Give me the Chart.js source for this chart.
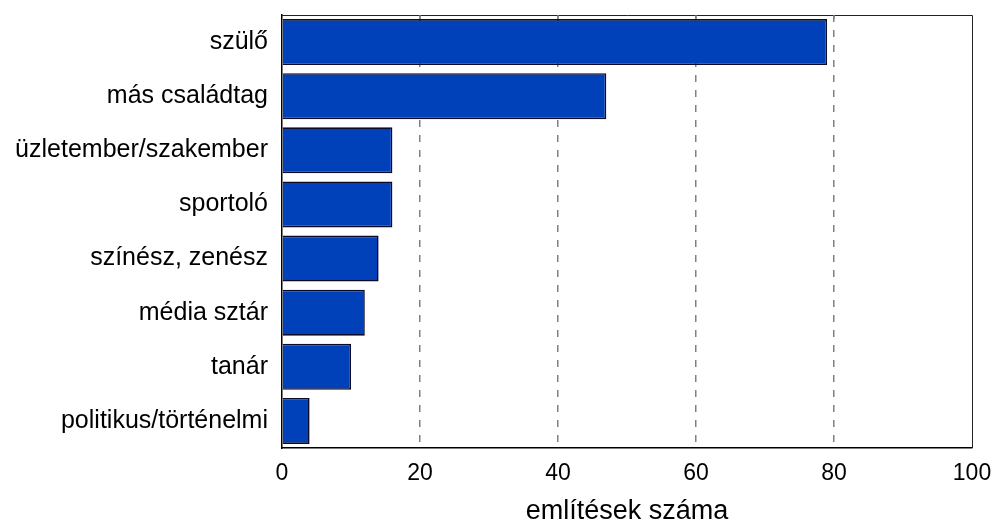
<!DOCTYPE html>
<html>
<head>
<meta charset="utf-8">
<script src="https://cdn.jsdelivr.net/npm/chart.js@4"></script>
<style>
  html, body { margin: 0; padding: 0; background: #fff; }
  #wrap { width: 993px; height: 525px; }
</style>
</head>
<body>
<div id="wrap"><canvas id="chart" width="993" height="525"></canvas></div>
<script>
  // Data
  const categories = ['szülő', 'más családtag', 'üzletember/szakember', 'sportoló',
    'színész, zenész', 'média sztár', 'tanár', 'politikus/történelmi'];
  const mentions = [79, 47, 16, 16, 14, 12, 10, 4];
  const xTicks = [0, 20, 40, 60, 80, 100];

  const FONT = 'Arial, "Liberation Sans", Helvetica, sans-serif';

  // Draws the top and right edges of the plot box, plus the little tick marks under the top edge
  const frame = {
    id: 'frame',
    afterDraw(chart) {
      const { ctx, chartArea: a } = chart;
      const xs = chart.scales.x;
      ctx.save();
      ctx.strokeStyle = '#222';
      ctx.lineWidth = 1;
      ctx.beginPath();
      ctx.moveTo(a.left, a.top + 0.5);
      ctx.lineTo(a.right + 0.5, a.top + 0.5);
      ctx.lineTo(a.right + 0.5, a.bottom);
      ctx.stroke();
      ctx.strokeStyle = '#808080';
      ctx.lineWidth = 1.5;
      ctx.beginPath();
      xTicks.slice(1, -1).forEach(v => {
        const px = xs.getPixelForValue(v);
        ctx.moveTo(px, a.top);
        ctx.lineTo(px, a.top + 4);
      });
      ctx.stroke();
      ctx.restore();
    }
  };

  const ctx = document.getElementById('chart').getContext('2d');
  new Chart(ctx, {
    type: 'bar',
    data: {
      labels: categories,
      datasets: [{
        label: 'említések száma',
        data: mentions,
        backgroundColor: '#0040B8',
        borderColor: '#0a0a2a',
        borderWidth: 1.6,
        barPercentage: 0.85,
        categoryPercentage: 1
      }]
    },
    options: {
      indexAxis: 'y',
      responsive: false,
      animation: false,
      devicePixelRatio: 1,
      layout: { padding: { top: 15, right: 21, left: 0, bottom: 0 } },
      plugins: {
        legend: { display: false },
        tooltip: { enabled: false }
      },
      scales: {
        x: {
          min: 0,
          max: 100,
          afterBuildTicks: (s) => { s.ticks = xTicks.map(v => ({ value: v })); },
          afterFit: (s) => { s.height = 77; s.paddingLeft = 0; s.paddingRight = 0; },
          border: { display: true, color: '#000', width: 1.5, dash: [7, 8] },
          grid: {
            drawTicks: false,
            color: (c) => (c.tick && (c.tick.value === 0 || c.tick.value === 100)) ? 'rgba(0,0,0,0)' : '#808080',
            lineWidth: 1.5
          },
          ticks: {
            padding: 12,
            color: '#000',
            font: { family: FONT, size: 23 }
          },
          title: {
            display: true,
            text: 'említések száma',
            color: '#000',
            font: { family: FONT, size: 27, lineHeight: 1 },
            padding: { top: 0, bottom: 0 }
          }
        },
        y: {
          afterFit: (s) => { s.width = 282; s.paddingTop = 0; s.paddingBottom = 0; },
          border: { display: true, color: '#000', width: 1.5 },
          grid: { display: false, drawTicks: false },
          ticks: {
            padding: 14,
            color: '#000',
            font: { family: FONT, size: 25 }
          }
        }
      }
    },
    plugins: [frame]
  });
</script>
</body>
</html>
